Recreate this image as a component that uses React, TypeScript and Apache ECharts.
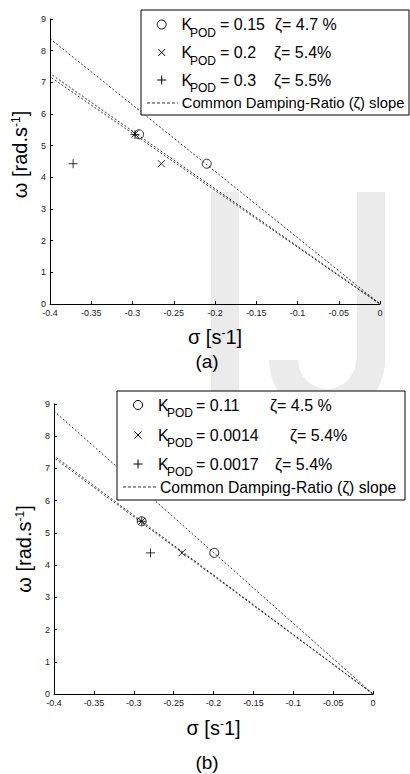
import React, { useEffect, useRef } from "react";
import * as echarts from "echarts";

// ---------- data ----------
const sigmaMin = -0.4;
const sigmaMax = 0;
const omegaMax = 9;

// chart (a)
const aCircle = [[-0.292, 5.36], [-0.21, 4.43]];
const aCross = [[-0.297, 5.37], [-0.265, 4.43]];
const aPlus = [[-0.297, 5.35], [-0.372, 4.43]];
const aSlopeEnds = [8.38, 7.28, 7.18]; // omega at sigma = -0.4
const aK = ["= 0.15", "= 0.2", "= 0.3"];
const aZeta = ["ζ= 4.7 %", "ζ= 5.4%", "ζ= 5.5%"];

// chart (b)
const bCircle = [[-0.29, 5.36], [-0.199, 4.38]];
const bCross = [[-0.29, 5.36], [-0.2395, 4.38]];
const bPlus = [[-0.29, 5.36], [-0.279, 4.38]];
const bSlopeEnds = [8.78, 7.39, 7.33];
const bK = ["= 0.11", "= 0.0014", "= 0.0017"];
const bZeta = ["ζ= 4.5 %", "ζ= 5.4%", "ζ= 5.4%"];

const slopeLabel = "Common Damping-Ratio (ζ) slope";
const panelLabels = ["(a)", "(b)"];

// ---------- styles ----------
const FONT = "'Liberation Sans', Arial, sans-serif";
const CROSS = "path://M0,0L1,1M1,0L0,1";
const PLUS = "path://M0.5,0L0.5,1M0,0.5L1,0.5";

function axisPair(idx: number, xGap: number, yPadShift: number) {
  const nameStyle = (pad: number[]) => ({
    fontFamily: FONT,
    fontSize: 20,
    color: "#000",
    padding: pad,
    rich: { sup: { fontSize: 12, verticalAlign: "top", fontFamily: FONT, color: "#000" } },
  });
  const x = {
    type: "value",
    gridIndex: idx,
    min: sigmaMin,
    max: sigmaMax,
    interval: 0.05,
    name: "σ [s{sup|-}1]",
    nameLocation: "middle",
    nameGap: xGap,
    nameTextStyle: nameStyle([0, 0, 0, 0]),
    axisLine: { show: true, onZero: false, lineStyle: { color: "#000", width: 1 } },
    axisTick: { show: true, inside: true, length: 3, lineStyle: { color: "#000" } },
    axisLabel: {
      fontFamily: FONT,
      fontSize: 9,
      color: "#222",
      margin: 4,
      formatter: (v: number) => String(Math.round(v * 100) / 100),
    },
    splitLine: { show: false },
  };
  const y = {
    type: "value",
    gridIndex: idx,
    min: 0,
    max: omegaMax,
    interval: 1,
    name: "ω [rad.s{sup|-1}]",
    nameLocation: "middle",
    nameGap: 14,
    nameTextStyle: nameStyle([0, 0, 0, yPadShift]),
    axisLine: { show: true, onZero: false, lineStyle: { color: "#000", width: 1 } },
    axisTick: { show: true, inside: true, length: 3, lineStyle: { color: "#000" } },
    axisLabel: { fontFamily: FONT, fontSize: 9, color: "#222", margin: 4 },
    splitLine: { show: false },
  };
  return { x, y };
}

function panelSeries(idx: number, circles: number[][], crosses: number[][], pluses: number[][], ends: number[]) {
  const s: any[] = [];
  ends.forEach((e, i) => {
    s.push({
      type: "line",
      xAxisIndex: idx,
      yAxisIndex: idx,
      data: [[sigmaMin, e], [0, 0]],
      symbol: "none",
      lineStyle: { color: "#000", width: 0.8, type: [2, 2], dashOffset: i },
      z: 2,
    });
  });
  const mk = (data: number[][], symbol: string, size: number) => ({
    type: "scatter",
    xAxisIndex: idx,
    yAxisIndex: idx,
    data,
    symbol,
    symbolSize: size,
    itemStyle: { color: "rgba(0,0,0,0)", borderColor: "#000", borderWidth: 1 },
    z: 3,
  });
  s.push(mk(circles, "circle", 9));
  s.push(mk(crosses, CROSS, 7));
  s.push(mk(pluses, PLUS, 9));
  return s;
}

function legendGraphics(L: any, kTexts: string[], zetaTexts: string[]) {
  const els: any[] = [];
  const txt = (text: string, x: number, y: number, size: number) => ({
    type: "text",
    x,
    y,
    z: 11,
    style: { text, fontSize: size, fontFamily: FONT, fill: "#000", align: "left", verticalAlign: "middle" },
  });
  els.push({
    type: "rect",
    z: 10,
    shape: { x: L.x, y: L.y, width: L.w, height: L.h },
    style: { fill: "#fff", stroke: "#000", lineWidth: 1 },
  });
  kTexts.forEach((k, i) => {
    const cy = L.rowY[i];
    if (i === 0) {
      els.push({ type: "circle", z: 11, shape: { cx: L.symX, cy, r: 4.5 }, style: { fill: "none", stroke: "#000", lineWidth: 1 } });
    } else if (i === 1) {
      els.push({ type: "line", z: 11, shape: { x1: L.symX - 3.5, y1: cy - 3.5, x2: L.symX + 3.5, y2: cy + 3.5 }, style: { stroke: "#000", lineWidth: 1 } });
      els.push({ type: "line", z: 11, shape: { x1: L.symX + 3.5, y1: cy - 3.5, x2: L.symX - 3.5, y2: cy + 3.5 }, style: { stroke: "#000", lineWidth: 1 } });
    } else {
      els.push({ type: "line", z: 11, shape: { x1: L.symX - 4.5, y1: cy, x2: L.symX + 4.5, y2: cy }, style: { stroke: "#000", lineWidth: 1 } });
      els.push({ type: "line", z: 11, shape: { x1: L.symX, y1: cy - 4.5, x2: L.symX, y2: cy + 4.5 }, style: { stroke: "#000", lineWidth: 1 } });
    }
    els.push(txt("K", L.kX, cy, 16));
    els.push(txt("POD", L.subX, cy + 8, 12));
    els.push(txt(k, L.eqX, cy, 16));
    els.push(txt(zetaTexts[i], L.zetaX[i], cy, 16));
  });
  els.push({
    type: "line",
    z: 11,
    shape: { x1: L.dashX1, y1: L.lineRowY, x2: L.dashX2, y2: L.lineRowY },
    style: { stroke: "#000", lineWidth: 0.8, lineDash: [3, 2] },
  });
  els.push(txt(slopeLabel, L.textX, L.lineRowY, L.slopeSize));
  return els;
}

export default function App() {
  const ref = useRef<HTMLDivElement>(null);
  useEffect(() => {
    if (!ref.current) return;
    const chart = echarts.init(ref.current, null, { renderer: "svg" });
    const a = axisPair(0, 23, 14);
    const b = axisPair(1, 24, 0);
    const wm = "#ebebeb";
    const legendA = {
      x: 141, y: 10, w: 268, h: 105,
      symX: 161.7, rowY: [24.5, 52.5, 80], lineRowY: 103,
      kX: 181.5, subX: 190, eqX: 220, zetaX: [275, 274, 274],
      dashX1: 147, dashX2: 178, textX: 181.7, slopeSize: 14.8,
    };
    const legendB = {
      x: 117, y: 391, w: 288, h: 109,
      symX: 138, rowY: [405, 435, 464], lineRowY: 487,
      kX: 158, subX: 167, eqX: 196, zetaX: [270, 290, 275],
      dashX1: 123, dashX2: 157, textX: 160, slopeSize: 15.7,
    };
    chart.setOption({
      animation: false,
      backgroundColor: "#fff",
      grid: [
        { left: 50, top: 19, width: 330, height: 285 },
        { left: 54, top: 404, width: 319, height: 290 },
      ],
      xAxis: [a.x, b.x],
      yAxis: [a.y, b.y],
      series: [
        ...panelSeries(0, aCircle, aCross, aPlus, aSlopeEnds),
        ...panelSeries(1, bCircle, bCross, bPlus, bSlopeEnds),
      ],
      graphic: [
        // watermark "IJ"
        { type: "rect", z: -1, shape: { x: 211, y: 192, width: 28, height: 230 }, style: { fill: wm } },
        { type: "rect", z: -1, shape: { x: 357, y: 192, width: 28, height: 168 }, style: { fill: wm } },
        { type: "sector", z: -1, shape: { cx: 327, cy: 360, r: 58, r0: 29, startAngle: 0, endAngle: Math.PI, clockwise: true }, style: { fill: wm } },
        ...legendGraphics(legendA, aK, aZeta),
        ...legendGraphics(legendB, bK, bZeta),
        { type: "text", x: 207, y: 361, z: 5, style: { text: panelLabels[0], fontSize: 19, fontFamily: FONT, fill: "#000", align: "center", verticalAlign: "middle" } },
        { type: "text", x: 207, y: 762, z: 5, style: { text: panelLabels[1], fontSize: 19, fontFamily: FONT, fill: "#000", align: "center", verticalAlign: "middle" } },
      ],
    });
    return () => chart.dispose();
  }, []);
  return <div ref={ref} style={{ position: "fixed", left: 0, top: 0, width: 410, height: 774 }} />;
}
